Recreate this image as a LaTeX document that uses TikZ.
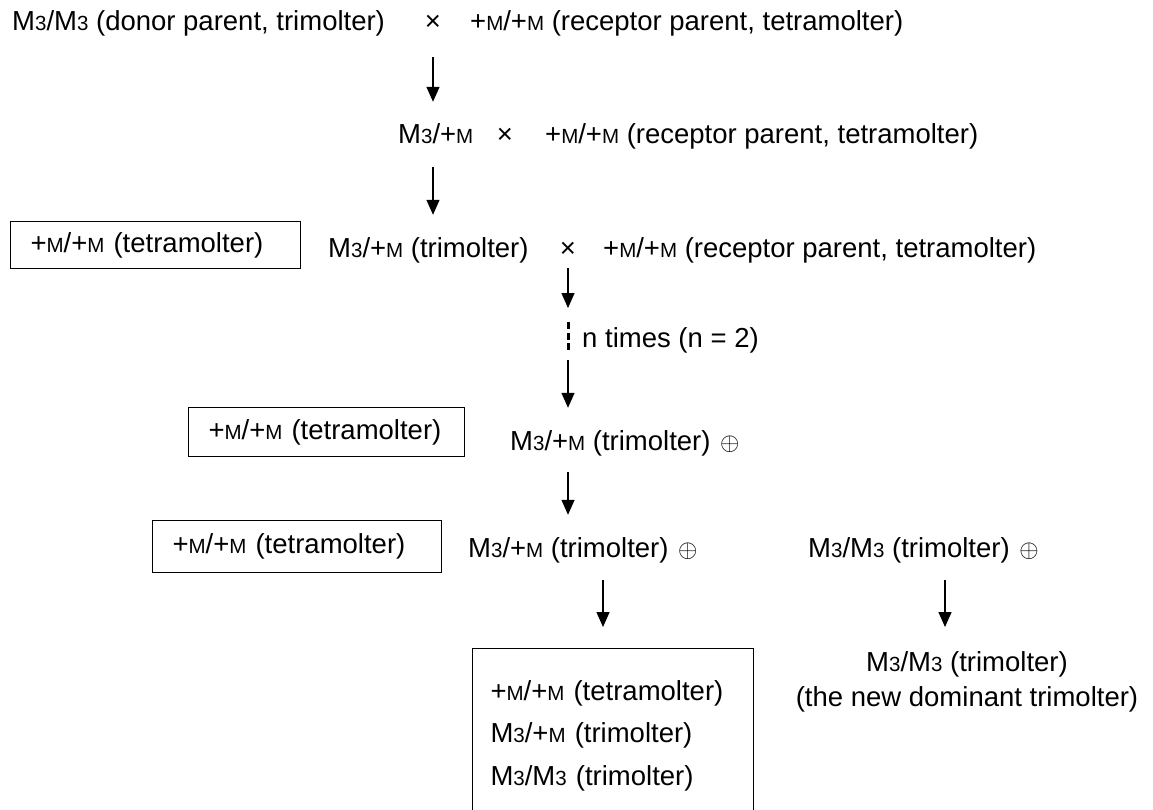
\documentclass[tikz,border=0pt]{standalone}
\usepackage{fontspec}
\setmainfont{Liberation Sans}
\usetikzlibrary{arrows.meta}
\newcommand{\lo}[1]{{\fontsize{20.5}{20.5}\selectfont #1}}
\newcommand{\Mt}{M\lo{3}}
\newcommand{\pM}{+\lo{M}}
\begin{document}
\begin{tikzpicture}[x=1pt, y=-1pt,
  every node/.style={font=\fontsize{27.5}{32}\selectfont},
  txt/.style={inner sep=0pt, text height=20pt, text depth=6pt},
  boxed/.style={draw, line width=1pt, text width=#1, inner xsep=20pt, align=left},
  arr/.style 2 args={-{Triangle[width=13pt,length=15pt]}, line width=1.4pt, shorten <=#1, shorten >=#2}]
\useasboundingbox (0,0) rectangle (1153,809);
\clip (0,0) rectangle (1153,809);
% crosses
\node[txt, anchor=base west] (r1a) at (12,30) {\Mt/\Mt{} (donor parent, trimolter)};
\node[txt, anchor=base] (r1x) at (433,30) {×};
\node[txt, anchor=base west] (r1b) at (470,30) {\pM/\pM{} (receptor parent, tetramolter)};
\node[txt, anchor=base west] (r2a) at (398,143) {\Mt/\pM};
\node[txt, anchor=base] (r2x) at (505,143) {×};
\node[txt, anchor=base west] (r2b) at (545,143) {\pM/\pM{} (receptor parent, tetramolter)};
\node[boxed=250pt, anchor=west, minimum height=47pt] (b3) at (10,245) {\pM/\pM{} (tetramolter)};
\node[txt, anchor=base west] (r3a) at (328,257) {\Mt/\pM{} (trimolter)};
\node[txt, anchor=base] (r3x) at (568,257) {×};
\node[txt, anchor=base west] (r3b) at (603,257) {\pM/\pM{} (receptor parent, tetramolter)};
% repeat
\coordinate (dt) at (568,322);
\coordinate (db) at (568,350);
\draw[line width=3pt, dash pattern=on 7pt off 3.5pt] (dt) -- (db);
\node[txt, anchor=base west] (nt) at (582,347) {n times (n = 2)};
% selfing
\node[boxed=236pt, anchor=west, minimum height=49pt] (b4) at (188,432) {\pM/\pM{} (tetramolter)};
\node[txt, anchor=base west] (r4a) at (510,450) {\Mt/\pM{} (trimolter) \hspace{2pt}$\oplus$};
\node[boxed=249pt, anchor=west, minimum height=52pt] (b5) at (152,546) {\pM/\pM{} (tetramolter)};
\node[txt, anchor=base west] (r5a) at (468,557) {\Mt/\pM{} (trimolter) \hspace{2pt}$\oplus$};
\node[txt, anchor=base west] (r5b) at (808,557) {\Mt/\Mt{} (trimolter) \hspace{2pt}$\oplus$};
% offspring
\node[draw, line width=1pt, anchor=north west, text width=245pt, inner xsep=18pt, inner ysep=32pt,
  align=left, font=\fontsize{27.5}{42.5}\selectfont] (b6) at (472,648)
  {\pM/\pM{} (tetramolter)\\ \Mt/\pM{} (trimolter)\\ \Mt/\Mt{} (trimolter)};
\node[anchor=north, inner sep=0pt, align=center, font=\fontsize{27.5}{35}\selectfont] (r6) at (967,651)
  {\Mt/\Mt{} (trimolter)\\ (the new dominant trimolter)};
% arrows
\coordinate (k6) at (603,0);
\coordinate (k7) at (945,0);
\draw[arr={21}{21}] (r1x.south) -- (r1x.south |- r2a.north);
\draw[arr={18}{22}] (r2a.south -| r1x) -- (r3a.north -| r1x);
\draw[arr={5}{14}] (r3x.south) -- (dt);
\draw[arr={10}{22}] (db) -- (db |- r4a.north);
\draw[arr={16}{22}] (db |- r4a.south) -- (db |- r5a.north);
\draw[arr={17}{21}] (r5a.south -| k6) -- (b6.north -| k6);
\draw[arr={17}{24}] (r5b.south -| k7) -- (r6.north -| k7);
\end{tikzpicture}
\end{document}
